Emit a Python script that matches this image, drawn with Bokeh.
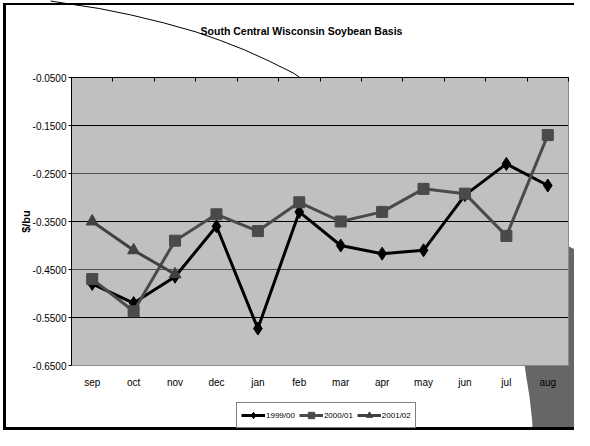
from bokeh.plotting import figure
from bokeh.layouts import column
from bokeh.models import (Range1d, LinearAxis, FixedTicker, PrintfTickFormatter, Grid,
                          Legend, LegendItem, Label, ColumnDataSource, CustomLabelingPolicy)
from bokeh.embed import file_html
from bokeh.resources import INLINE

# ---------------- data ----------------
months = ["sep", "oct", "nov", "dec", "jan", "feb", "mar", "apr", "may", "jun", "jul", "aug"]
series_names = ["1999/00", "2000/01", "2001/02"]
basis_1999_00 = [-0.480, -0.520, -0.465, -0.360, -0.573, -0.330, -0.400, -0.417, -0.410, -0.295, -0.230, -0.275]
basis_2000_01 = [-0.470, -0.537, -0.390, -0.335, -0.370, -0.310, -0.350, -0.330, -0.282, -0.292, -0.380, -0.170]
basis_2001_02 = [-0.350, -0.410, -0.460]
y_ticks = [-0.05, -0.15, -0.25, -0.35, -0.45, -0.55, -0.65]
grid_dark = [-0.15, -0.35, -0.55]
grid_mid = [-0.25, -0.45]
title_text = "South Central Wisconsin Soybean Basis"
y_label = "$/bu"

# ---------------- layout ----------------
FONT = "Liberation Sans"
W, H = 574, 430
H_T, H_LEG = 45, 30
H_MAIN = H - H_T - H_LEG
FL, FR = 71, 568                      # frame left / right (canvas px)
FT, FB = 77 - H_T, 365 - H_T          # frame top / bottom inside the main figure

x_pos = [i + 0.5 for i in range(len(months))]
boundaries = list(range(len(months) + 1))

def strip_figure(height, xr, yr):
    f = figure(width=W, height=height, x_range=xr, y_range=yr,
               output_backend="svg", toolbar_location=None, x_axis_location=None, y_axis_location=None,
               min_border_left=FL, min_border_right=W - FR, min_border_top=0, min_border_bottom=0)
    f.grid.visible = False
    f.outline_line_color = None
    f.background_fill_alpha = 0
    f.border_fill_alpha = 0
    return f

# ---- title strip ----
tf = strip_figure(H_T, Range1d(FL, FR), Range1d(0, H_T))
tf.add_layout(Label(x=301, y=H_T - 30, text=title_text, text_font=FONT, text_font_style="bold",
                    text_font_size="10.5px", text_align="center", text_baseline="middle",
                    text_color="black"))

# ---- main plot ----
p = figure(width=W, height=H_MAIN, x_range=Range1d(0, len(months)), y_range=Range1d(y_ticks[-1], y_ticks[0]),
           output_backend="svg", toolbar_location=None,
           x_axis_location=None, y_axis_location=None,
           min_border_left=FL, min_border_right=W - FR, min_border_top=FT, min_border_bottom=H_MAIN - FB)
p.grid.visible = False
p.background_fill_color = "#c0c0c0"
p.border_fill_alpha = 0
p.outline_line_color = "#8a8a8a"
p.outline_line_width = 1

p.add_layout(Grid(dimension=1, ticker=FixedTicker(ticks=grid_dark), grid_line_color="black", grid_line_width=1))
p.add_layout(Grid(dimension=1, ticker=FixedTicker(ticks=grid_mid), grid_line_color="#505050", grid_line_width=1))

left = LinearAxis(ticker=FixedTicker(ticks=y_ticks), formatter=PrintfTickFormatter(format="%.4f"),
                  axis_label=y_label, axis_label_text_font=FONT, axis_label_text_font_style="bold",
                  axis_label_text_font_size="11px", axis_label_standoff=-2, axis_label_text_color="black",
                  major_label_text_font=FONT, major_label_text_font_size="10px", major_label_standoff=2,
                  major_label_text_color="black",
                  major_tick_in=0, major_tick_out=3, minor_tick_line_color=None,
                  axis_line_color="black", major_tick_line_color="black")
p.add_layout(left, "left")

no_labels = CustomLabelingPolicy(code="for (const i of Array.from(indices)) indices.unset(i); return indices")
top = LinearAxis(ticker=FixedTicker(ticks=boundaries), major_label_policy=no_labels,
                 major_label_standoff=0, major_tick_in=4, major_tick_out=0,
                 minor_tick_line_color=None, axis_line_color="black", major_tick_line_color="black")
p.add_layout(top, "above")

bottom = LinearAxis(ticker=FixedTicker(ticks=x_pos),
                    major_label_overrides={x: m for x, m in zip(x_pos, months)},
                    major_label_text_font=FONT, major_label_text_font_size="10px",
                    major_label_text_color="black",
                    major_label_standoff=11, major_tick_in=0, major_tick_out=0,
                    minor_tick_line_color=None, axis_line_color=None, major_tick_line_color=None)
p.add_layout(bottom, "below")

src = ColumnDataSource(dict(x=x_pos, a=basis_1999_00, b=basis_2000_01))
src3 = ColumnDataSource(dict(x=x_pos[:len(basis_2001_02)], c=basis_2001_02))

c1, c2, c3 = "black", "#4a4a4a", "#404040"
series = [("a", src, c1, "diamond", 13, 9),
          ("b", src, c2, "square", 11, 7),
          ("c", src3, c3, "triangle", 12, 8)]
for col, s, c, mk, sz, _ in series:
    p.line("x", col, source=s, line_color=c, line_width=3)
    p.scatter("x", col, source=s, marker=mk, size=sz, fill_color=c, line_color=c)

# ---- legend strip (own figure so the legend is not clipped by the plot frame) ----
lf = strip_figure(H_LEG, Range1d(0, 1), Range1d(0, 1))   # the series lie outside this view
items = []
for name, (col, s, c, mk, sz, lsz) in zip(series_names, series):
    r_line = lf.line("x", col, source=s, line_color=c, line_width=3)
    r_mark = lf.scatter("x", col, source=s, marker=mk, size=lsz, fill_color=c, line_color=c)
    items.append(LegendItem(label=name, renderers=[r_line, r_mark]))
legend = Legend(items=items, orientation="horizontal", location=(236 - FL, 2),
                label_text_font=FONT, label_text_font_size="8px", label_text_color="black",
                glyph_width=24, glyph_height=16, label_height=16, label_standoff=1, spacing=4,
                padding=4, margin=0, border_line_color="black", border_line_width=1,
                background_fill_color="white", background_fill_alpha=1)
lf.add_layout(legend)

# ---- decorative artefacts of the original picture + outer frame, as a css background ----
def cx(x_ref):
    return round(FL + (x_ref - 71) * (FR - FL) / 512, 1)

arc_ref = [(50, 1), (65, 3.3), (100, 8.5), (133, 15), (167, 23), (200, 32), (225, 40.5),
           (250, 50), (275, 61), (300, 73), (306, 77)]
shade_ref = [(583, 246), (592, 249), (592, 450), (547.5, 450), (546, 420), (543.3, 396.7),
             (540, 376.7), (538.3, 365), (583, 365)]
arc_pts = " ".join(f"{cx(x)},{y}" for x, y in arc_ref)
shade_pts = " ".join(f"{cx(x) if x < 590 else W},{y}" for x, y in shade_ref)
svg_bg = (f"<svg xmlns='http://www.w3.org/2000/svg' width='{W}' height='{H}'>"
          f"<polygon points='{shade_pts}' fill='%23666666'/>"
          f"<polyline points='{arc_pts}' fill='none' stroke='black' stroke-width='1'/>"
          f"<rect x='3' y='3' width='{W}' height='2' fill='black'/>"
          f"<rect x='3' y='3' width='3' height='{H - 6}' fill='black'/>"
          f"<rect x='3' y='{H - 3}' width='{W}' height='3' fill='black'/></svg>")

layout = column(tf, p, lf, spacing=0)
layout.styles = {
    "background-color": "white",
    "background-image": f'url("data:image/svg+xml;utf8,{svg_bg}")',
    "background-repeat": "no-repeat",
}

open("out.html", "w").write(file_html(layout, INLINE))
